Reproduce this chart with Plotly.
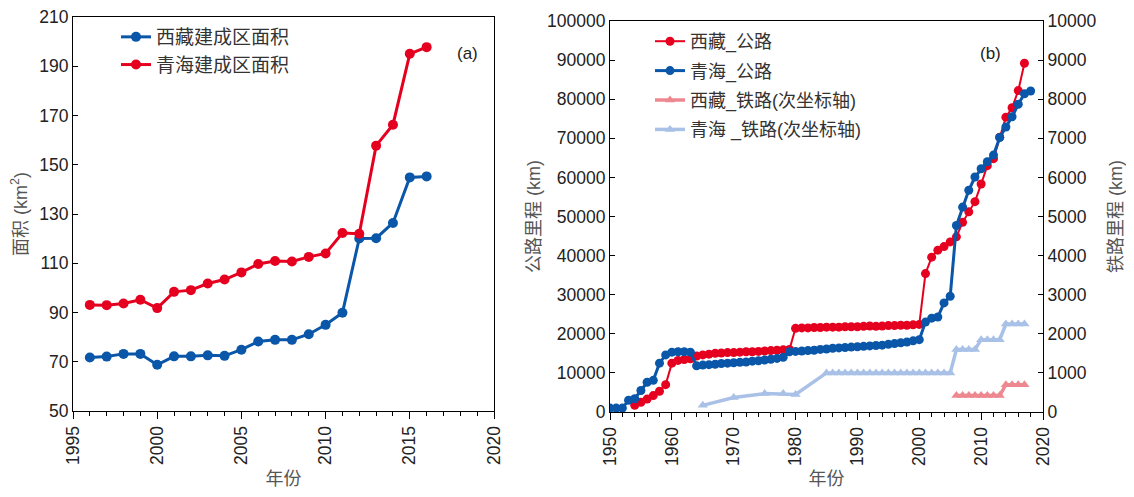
import plotly.graph_objects as go

# ---------- Panel (a): built-up area (km²) ----------
years_a = list(range(1996, 2017))
xizang_area = [71.7, 72.1, 73.2, 73.2, 68.8, 72.2, 72.2, 72.6, 72.4, 74.9, 78.2,
               78.9, 78.9, 81.2, 85.0, 89.9, 120.1, 120.2, 126.4, 144.9, 145.3]
qinghai_area = [93.1, 93.0, 93.7, 95.2, 91.8, 98.4, 99.1, 101.8, 103.4, 106.3, 109.7,
                110.9, 110.7, 112.6, 114.0, 122.3, 122.0, 157.8, 166.3, 195.1, 197.8]
area_ticks = [50, 70, 90, 110, 130, 150, 170, 190, 210]

# ---------- Panel (b): highway (km) ----------
qh_road_years = list(range(1950, 2019))
qh_road = [1000, 1000, 1000, 3000, 3400, 5500, 7600, 8100, 12500, 14600,
           15300, 15400, 15400, 15300, 11800, 12000, 12100, 12200, 12400, 12500,
           12600, 12700, 12800, 13000, 13100, 13300, 13500, 13700, 14000, 15400,
           15500, 15600, 15700, 15800, 16000, 16100, 16300, 16400, 16500, 16600,
           16700, 16800, 16900, 17000, 17100, 17300, 17500, 17700, 17900, 18200,
           18500, 23000, 24000, 24300, 27900, 29600, 47700, 52400, 56700, 60100,
           62200, 64000, 65700, 70200, 72900, 75500, 78700, 81400, 82100]

xz_road_years = list(range(1954, 2018))
xz_road = [1700, 2500, 3300, 4200, 5300, 7000, 12500, 13200, 13400, 13600,
           14300, 14600, 14800, 15000, 15100, 15200, 15200, 15300, 15400, 15400,
           15500, 15600, 15700, 15800, 15900, 16000, 21400, 21500, 21500, 21600,
           21600, 21700, 21700, 21700, 21800, 21800, 21800, 21900, 22000, 21900,
           22000, 22100, 22100, 22200, 22200, 22300, 22400, 35400, 39600, 41400,
           42300, 43500, 44800, 48500, 51200, 53800, 58300, 63000, 64800, 70300,
           75400, 77800, 82200, 89200]

# ---------- Panel (b): railway (km, secondary axis) ----------
xz_rail_years = list(range(2006, 2018))
xz_rail = [420, 420, 420, 420, 420, 420, 420, 420, 700, 700, 700, 700]

qh_rail_years = [1965, 1970, 1975, 1978, 1980] + list(range(1985, 2018))
qh_rail = [170, 370, 470, 470, 450] + [1000] * 21 + [1600, 1600, 1600, 1600,
                                                     1850, 1850, 1850, 1850,
                                                     2250, 2250, 2250, 2250]

RED = "#E60020"
BLUE = "#0A56A8"
PINK = "#EE8890"
LBLUE = "#A9C1E6"
FONT = "Liberation Sans, Arial, Noto Sans CJK SC"
TXT = "#222222"
TITLE_C = "#555555"

# page body has an 8px margin: size the figure to fit and map window pixels to paper
W, H, OFF = 1118, 481, 8
def fx(px):
    return (px - OFF) / W
def fy(py):
    return 1 - (py - OFF) / H

fig = go.Figure()

fig.add_trace(go.Scatter(x=years_a, y=xizang_area, name="西藏建成区面积", mode="lines+markers",
                         line=dict(color=BLUE, width=3), marker=dict(size=10, color=BLUE),
                         xaxis="x", yaxis="y", legend="legend"))
fig.add_trace(go.Scatter(x=years_a, y=qinghai_area, name="青海建成区面积", mode="lines+markers",
                         line=dict(color=RED, width=3), marker=dict(size=10, color=RED),
                         xaxis="x", yaxis="y", legend="legend"))

fig.add_trace(go.Scatter(x=xz_road_years, y=xz_road, name="西藏_公路", mode="lines+markers",
                         line=dict(color=RED, width=2), marker=dict(size=9, color=RED),
                         xaxis="x2", yaxis="y2", legend="legend2", legendgroup="b1"))
fig.add_trace(go.Scatter(x=qh_road_years, y=qh_road, name="青海_公路", mode="lines+markers",
                         line=dict(color=BLUE, width=3), marker=dict(size=9, color=BLUE),
                         xaxis="x2", yaxis="y2", legend="legend2", legendgroup="b2"))
fig.add_trace(go.Scatter(x=xz_rail_years, y=xz_rail, name="西藏_铁路(次坐标轴)", mode="lines+markers",
                         line=dict(color=PINK, width=3.5), marker=dict(size=9, color=PINK, symbol="triangle-up"),
                         xaxis="x2", yaxis="y3", legend="legend2", legendgroup="b3"))
fig.add_trace(go.Scatter(x=qh_rail_years, y=qh_rail, name="青海 _铁路(次坐标轴)", mode="lines+markers",
                         line=dict(color=LBLUE, width=3.5), marker=dict(size=9, color=LBLUE, symbol="triangle-up"),
                         xaxis="x2", yaxis="y3", legend="legend2", legendgroup="b4"))

tickfont = dict(family=FONT, size=17.5, color=TXT)
titlefont = dict(family=FONT, size=18, color=TITLE_C)

xcommon = dict(showline=True, linecolor="black", linewidth=1, ticks="outside", ticklen=7,
               tickcolor="black", tickangle=-90, tickfont=tickfont, showgrid=False,
               zeroline=False, title_font=titlefont, automargin=False,
               ticklabeloverflow="allow")
ycommon = dict(showline=True, linecolor="black", linewidth=1, ticks="inside", ticklen=5,
               tickcolor="black", tickfont=tickfont, showgrid=False, zeroline=False,
               tickformat="d", automargin=False, ticklabeloverflow="allow")

fig.update_layout(
    width=W, height=H,
    margin=dict(l=0, r=0, t=0, b=0),
    paper_bgcolor="white", plot_bgcolor="white",
    font=dict(family=FONT, color=TXT),
    xaxis=dict(xcommon, domain=[fx(73), fx(494)], range=[1995, 2020], dtick=5, tick0=1995,
               mirror=True, anchor="y",
               minor=dict(dtick=1, ticks="outside", ticklen=4, tickcolor="black"),
               title=dict(text="年份", standoff=15)),
    yaxis=dict(ycommon, domain=[fy(411), fy(17)], range=[50, 210.05],
               tickmode="array", tickvals=area_ticks,
               mirror=True, anchor="x",
               title=dict(text="面积 (km<sup>2</sup>)", font=titlefont, standoff=12)),
    xaxis2=dict(xcommon, domain=[fx(610), fx(1043)], range=[1950, 2020], dtick=10, tick0=1950,
                mirror=True, anchor="y2",
                minor=dict(dtick=2, ticks="outside", ticklen=4, tickcolor="black"),
                title=dict(text="年份", standoff=15)),
    yaxis2=dict(ycommon, domain=[fy(412), fy(21)], range=[0, 100000], dtick=10000,
                anchor="x2",
                title=dict(text="公路里程 (km)", font=titlefont, standoff=1)),
    yaxis3=dict(ycommon, domain=[fy(412), fy(21)], range=[0, 10000], dtick=1000, overlaying="y2",
                side="right", anchor="x2",
                title=dict(text="铁路里程 (km)", font=titlefont, standoff=20)),
    legend=dict(x=fx(116), y=fy(18), xanchor="left", yanchor="top", bgcolor="rgba(0,0,0,0)",
                font=dict(family=FONT, size=19, color="#333333")),
    legend2=dict(x=fx(650), y=fy(23), xanchor="left", yanchor="top", bgcolor="rgba(0,0,0,0)",
                 font=dict(family=FONT, size=18, color="#333333"), traceorder="grouped",
                 tracegroupgap=3),
    showlegend=True,
    annotations=[
        dict(text="(a)", x=fx(467), y=fy(42), xref="paper", yref="paper", showarrow=False,
             font=dict(family=FONT, size=17, color="#222222")),
        dict(text="(b)", x=fx(1003), y=fy(42), xref="paper", yref="paper", showarrow=False,
             font=dict(family=FONT, size=17, color="#222222")),
    ],
)

fig.write_html("out.html")
